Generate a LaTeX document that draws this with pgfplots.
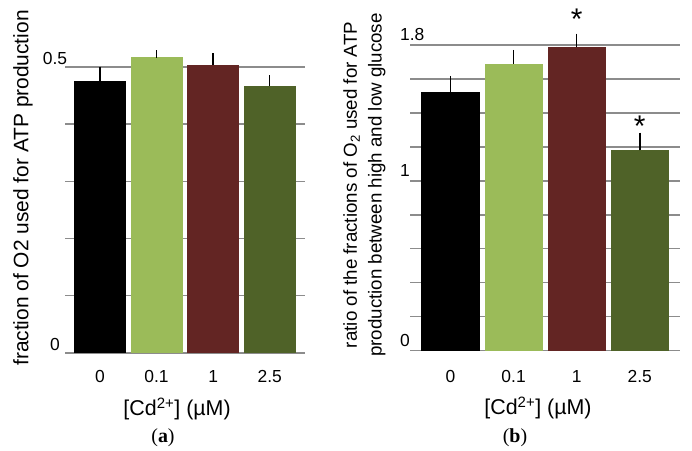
\documentclass[border=0pt]{standalone}
\usepackage{fontspec}
\setmainfont{Liberation Sans}
\newfontfamily\capfont{Liberation Serif}
\usepackage{pgfplots}
\pgfplotsset{compat=1.18}

\definecolor{barblack}{HTML}{000000}
\definecolor{barlight}{HTML}{9BBB59}
\definecolor{barred}{HTML}{632523}
\definecolor{bardark}{HTML}{4F6228}
\definecolor{gridgray}{HTML}{8C8C8C}

\pgfplotsset{
  cdstyle/.style={
    scale only axis,
    anchor=south west,
    ymin=0,
    xtick={0,1,2,3},
    xticklabels={0,0.1,1,2.5},
    axis lines=left,
    y axis line style={draw=none},
    x axis line style={gridgray, line width=1.4bp, -},
    major tick length=0pt,
    ymajorgrids,
    grid style={gridgray, line width=1.4bp},
    clip=false,
    bar width=0.92,
    ybar, /pgf/bar shift=0pt,
    tick label style={font=\fontsize{17.5}{19}\selectfont, inner sep=0pt},
    xlabel={[Cd\textsuperscript{2+}] (µM)},
    every axis x label/.style={font=\fontsize{21.5}{24}\selectfont, anchor=base},
    every axis y label/.style={rotate=90, anchor=center, align=center},
    error bars/y dir=plus, error bars/y explicit,
    error bars/error mark options={black, line width=1.5bp, mark size=4bp},
    error bars/error bar style={black, line width=1.5bp},
  },
}

\begin{document}
\begin{tikzpicture}
\useasboundingbox (0,0) rectangle (692bp,451bp);

% (a)
\begin{axis}[cdstyle,
  at={(65bp,98bp)}, width=240bp, height=286bp,
  xmin=-0.618, xmax=3.624, ymax=0.5,
  ytick={0,0.1,0.2,0.3,0.4,0.5},
  yticklabels={0,,,,,0.5},
  yticklabel style={anchor=base, xshift=-10bp, yshift=2bp},
  xticklabel style={anchor=base, yshift=-30bp},
  x label style={at={(axis description cs:0.467,-0.22)}},
  ylabel={fraction of O2 used for ATP production},
  y label style={at={(axis description cs:-0.175,0.577)}, font=\fontsize{21}{24}\selectfont},
]
\addplot[fill=barblack, draw=none] coordinates {(0,0.4755) +- (0,0.018)};
\addplot[fill=barlight, draw=none] coordinates {(1,0.517) +- (0,0.005)};
\addplot[fill=barred, draw=none] coordinates {(2,0.504) +- (0,0.013)};
\addplot[fill=bardark, draw=none] coordinates {(3,0.467) +- (0,0.012)};
\end{axis}

% (b)
\begin{axis}[cdstyle,
  at={(410bp,100.3bp)}, width=270bp, height=305.7bp,
  xmin=-0.642, xmax=3.637, ymax=1.8,
  ytick={0,0.2,0.4,0.6,0.8,1,1.2,1.4,1.6,1.8},
  yticklabels={0,,,,,1,,,,1.8},
  yticklabel style={anchor=base west, xshift=-10bp, yshift=4bp},
  xticklabel style={anchor=base, yshift=-32bp},
  x label style={at={(axis description cs:0.474,-0.21)}},
  ylabel={ratio of the fractions of O\textsubscript{2} used for ATP\\production between high and low glucose},
  y label style={at={(axis description cs:-0.169,0.542)}, font=\fontsize{18.8}{25}\selectfont},
]
\addplot[fill=barblack, draw=none] coordinates {(0,1.521) +- (0,0.073)};
\addplot[fill=barlight, draw=none] coordinates {(1,1.690) +- (0,0.057)};
\addplot[fill=barred, draw=none] coordinates {(2,1.786) +- (0,0.057)};
\addplot[fill=bardark, draw=none] coordinates {(3,1.180) +- (0,0.080)};
\node[font=\fontsize{30}{32}\selectfont] at (axis cs:2,1.95) {*};
\node[font=\fontsize{30}{32}\selectfont] at (axis cs:3,1.32) {*};
\end{axis}

\node[font=\capfont\fontsize{20}{22}\selectfont] at (163bp,13bp) {(\textbf{a})};
\node[font=\capfont\fontsize{20}{22}\selectfont] at (515bp,13bp) {(\textbf{b})};
\end{tikzpicture}
\end{document}
